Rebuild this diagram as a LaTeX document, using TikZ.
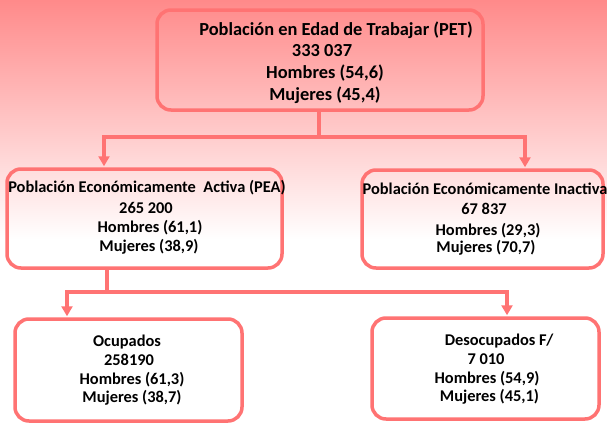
\documentclass[tikz,border=0pt]{standalone}
\usepackage{fontspec}
\setmainfont{Carlito}
\usetikzlibrary{arrows.meta}
\definecolor{lineas}{RGB}{255,115,115}
\definecolor{fondo}{RGB}{255,138,138}
\tikzset{
	caja/.style={draw=lineas,line width=3.5pt,rounded corners=14pt,inner sep=0pt},
	linea/.style={draw=lineas,line width=3.5pt},
	flecha/.style={linea,-{Triangle[length=10pt,width=11pt]},shorten >=1pt},
	texto/.style={font=\bfseries\fontsize{16.4}{19}\selectfont,inner sep=0pt},
	titulo/.style={font=\bfseries\fontsize{18.4}{21}\selectfont,inner sep=0pt}
}

\begin{document}
\begin{tikzpicture}[x=1pt,y=-1pt]
	\fill [white] (0,0) rectangle (607,423);
	\shade [top color=fondo,bottom color=white] (0,0) rectangle (607,240);
	\useasboundingbox (0,0) rectangle (607,423);

	\node [caja,minimum width=326pt,minimum height=100pt] (pet) at (320,60) {};
	\node [caja,minimum width=275pt,minimum height=99pt] (pea) at (144.5,218.5) {};
	\node [caja,minimum width=241pt,minimum height=98pt] (pei) at (482.5,219) {};
	\node [caja,minimum width=227pt,minimum height=102pt] (ocu) at (128.5,370) {};
	\node [caja,minimum width=227pt,minimum height=101pt] (des) at (485.5,368.5) {};

	\node [titulo] at (336,30) {Población en Edad de Trabajar (PET)};
	\node [titulo] at (322,51) {333 037};
	\node [titulo] at (325,73) {Hombres (54,6)};
	\node [titulo] at (325,95) {Mujeres (45,4)};

	\node [texto] at (147,188) {Población Económicamente\ \ Activa (PEA)};
	\node [texto] at (146,207.5) {265 200};
	\node [texto] at (150,228) {Hombres (61,1)};
	\node [texto] at (149,247) {Mujeres (38,9)};

	\node [texto] at (485,189) {Población Económicamente Inactiva};
	\node [texto] at (484,209) {67 837};
	\node [texto] at (488,231) {Hombres (29,3)};
	\node [texto] at (486,247.5) {Mujeres (70,7)};

	\node [texto] at (127,342) {Ocupados};
	\node [texto] at (129,359.5) {258190};
	\node [texto] at (132,380) {Hombres (61,3)};
	\node [texto] at (132,397.5) {Mujeres (38,7)};

	\node [texto] at (499,341) {Desocupados F/};
	\node [texto] at (486,359.5) {7 010};
	\node [texto] at (487,379) {Hombres (54,9)};
	\node [texto] at (489.5,397) {Mujeres (45,1)};

	\coordinate (j1) at (319,137);
	\coordinate (a1) at (104,0);
	\coordinate (a2) at (525,0);
	\draw [linea] (pet.south -| j1) -- (j1);
	\draw [flecha] (j1) -| (a1 |- pea.north);
	\draw [flecha] (j1) -| (a2 |- pei.north);

	\coordinate (j2) at (107,292);
	\coordinate (b1) at (67,0);
	\coordinate (b2) at (507,0);
	\draw [linea] (pea.south -| j2) -- (j2);
	\draw [flecha] (j2) -| (b1 |- ocu.north);
	\draw [flecha] (j2) -| (b2 |- des.north);
\end{tikzpicture}
\end{document}
